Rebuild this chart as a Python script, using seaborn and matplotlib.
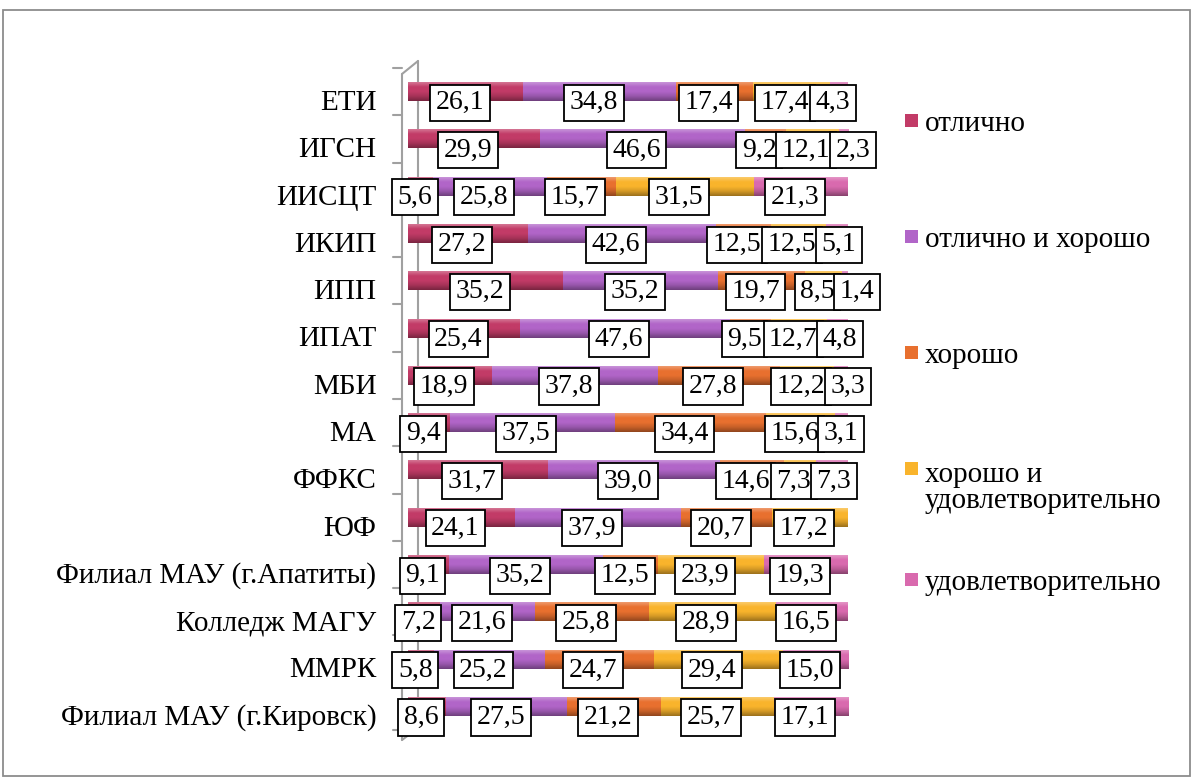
import numpy as np
import pandas as pd
import matplotlib
matplotlib.use("Agg")
import matplotlib.pyplot as plt
import matplotlib.colors as mcolors
import matplotlib.transforms as mtransforms
from matplotlib.patches import Rectangle
from matplotlib.lines import Line2D
import seaborn as sns

# data
units = ["ЕТИ", "ИГСН", "ИИСЦТ", "ИКИП", "ИПП", "ИПАТ", "МБИ", "МА", "ФФКС", "ЮФ",
         "Филиал МАУ (г.Апатиты)", "Колледж МАГУ", "ММРК", "Филиал МАУ (г.Кировск)"]
grades = ["отлично", "отлично и хорошо", "хорошо", "хорошо и\nудовлетворительно", "удовлетворительно"]
excellent = [26.1, 29.9, 5.6, 27.2, 35.2, 25.4, 18.9, 9.4, 31.7, 24.1, 9.1, 7.2, 5.8, 8.6]
excellent_good = [34.8, 46.6, 25.8, 42.6, 35.2, 47.6, 37.8, 37.5, 39.0, 37.9, 35.2, 21.6, 25.2, 27.5]
good = [17.4, 9.2, 15.7, 12.5, 19.7, 9.5, 27.8, 34.4, 14.6, 20.7, 12.5, 25.8, 24.7, 21.2]
good_sat = [17.4, 12.1, 31.5, 12.5, 8.5, 12.7, 12.2, 15.6, 7.3, 17.2, 23.9, 28.9, 29.4, 25.7]
satisfactory = [4.3, 2.3, 21.3, 5.1, 1.4, 4.8, 3.3, 3.1, 7.3, 0.0, 19.3, 16.5, 15.0, 17.1]
colors = ["#c23b67", "#b165c8", "#e8702f", "#f9b42c", "#d96aae"]

series = [excellent, excellent_good, good, good_sat, satisfactory]
vals = np.array(series)
cum = vals.cumsum(axis=0)

sns.set_theme(style="white")
plt.rcParams["font.family"] = ["Liberation Serif", "DejaVu Serif"]
FS = 21

fig = plt.figure(figsize=(11.92, 7.78), dpi=100)
W, H = 1192, 778
ax = fig.add_axes([400 / W, 1 - 730 / H, 460 / W, (730 - 68) / H])
ax.patch.set_visible(False)

# stacked bars: draw cumulative totals from the longest down
for i in range(len(series) - 1, -1, -1):
    df = pd.DataFrame({"unit": units, "value": cum[i]})
    sns.barplot(data=df, x="value", y="unit", orient="h", color=colors[i],
                width=0.4, saturation=1, ax=ax, edgecolor="none")

xlim = (-8 / 4.4, 100 + 12 / 4.4)
ylim = ax.get_ylim()

# cylinder shading, shorter pieces on top
for p in list(ax.patches):
    c = np.array(mcolors.to_rgb(p.get_facecolor()))
    dark = c * 0.62
    light = c + (1 - c) * 0.3
    cmap = mcolors.LinearSegmentedColormap.from_list("cyl", [light, c, c, c * 0.85, dark])
    grad = np.linspace(0, 1, 64).reshape(-1, 1)
    x0, y0 = p.get_x(), p.get_y()
    x1, y1 = x0 + p.get_width(), y0 + p.get_height()
    z = 2 + (200 - x1) / 1000
    p.set_zorder(z)
    im = ax.imshow(grad, extent=[x0, x1, y1, y0], cmap=cmap, aspect="auto",
                   origin="upper", zorder=z + 0.0001, interpolation="bilinear")
    im.set_clip_path(p)

ax.set_xlim(xlim)
ax.set_ylim(ylim)

# value labels
rows = []
for j, u in enumerate(units):
    row = []
    for i in range(len(series)):
        v = vals[i, j]
        if v <= 0:
            continue
        xc = cum[i, j] - v / 2
        a = ax.annotate(f"{v:.1f}".replace(".", ","), xy=(xc, j), xytext=(-4, -8),
                        textcoords="offset points", ha="center", va="center",
                        fontsize=FS - 1, color="black", zorder=50,
                        bbox=dict(boxstyle="square,pad=0.2", fc="white", ec="black", lw=1.3))
        row.append(a)
    rows.append(row)

# push overlapping boxes to the right
fig.canvas.draw()
r = fig.canvas.get_renderer()
for row in rows:
    prev_right = None
    for a in row:
        bb = a.get_bbox_patch().get_window_extent(r)
        if prev_right is not None and bb.x0 < prev_right - 6:
            dx = prev_right - 6 - bb.x0
            ox, oy = a.get_position() if False else a.xyann
            a.xyann = (ox + dx * 72 / fig.dpi, oy)
            fig.canvas.draw()
            bb = a.get_bbox_patch().get_window_extent(r)
        prev_right = bb.x1

# axis styling
for s in ax.spines.values():
    s.set_visible(False)
ax.set_xticks([])
ax.set_xlabel("")
ax.set_ylabel("")
ax.tick_params(axis="y", length=0, pad=17, labelsize=FS, labelcolor="black")
shift = mtransforms.ScaledTranslation(0, -6 / 72, fig.dpi_scale_trans)
for lab in ax.get_yticklabels():
    lab.set_transform(lab.get_transform() + shift)

# 3d wall of the category axis
gray = "#a0a0a0"
wall = dict(color=gray, lw=1.5, transform=fig.transFigure, zorder=-1)
fig.add_artist(Line2D([402 / W, 402 / W], [1 - 740 / H, 1 - 74 / H], **wall))
fig.add_artist(Line2D([418 / W, 418 / W], [1 - 728 / H, 1 - 61 / H], **wall))
fig.add_artist(Line2D([402 / W, 418 / W], [1 - 74 / H, 1 - 61 / H], **wall))
fig.add_artist(Line2D([402 / W, 418 / W], [1 - 740 / H, 1 - 728 / H], **wall))
for k in range(len(units) + 1):
    yb = k - 0.5
    yf = fig.transFigure.inverted().transform(ax.transData.transform((0, yb)))[1]
    fig.add_artist(Line2D([393 / W, 402 / W], [yf, yf], **wall))

# legend (entries spaced as in the original)
legend_y = [124, 240, 356, 488, 583]
for g, c, ly in zip(grades, colors, legend_y):
    nlines = g.count("\n") + 1
    top = ly - (nlines - 1) * 15.5
    fig.add_artist(Rectangle((905 / W, 1 - (top + 3) / H), 13 / W, 13 / H,
                             transform=fig.transFigure, fc=c, ec="none"))
    fig.text(925 / W, 1 - ly / H, g, fontsize=FS, va="center", ha="left",
             linespacing=1.05, color="black")

# outer frame
fig.add_artist(Rectangle((3 / W, 2 / H), 1187 / W, 766 / H, transform=fig.transFigure,
                         fill=False, ec="#8c8c8c", lw=1.3))

fig.savefig("out.png", dpi=100)
